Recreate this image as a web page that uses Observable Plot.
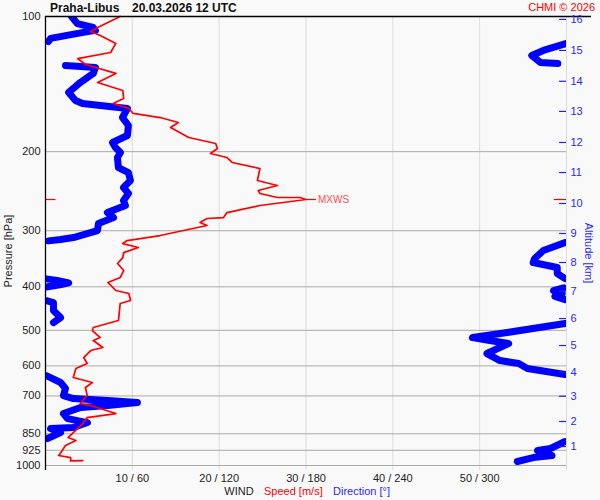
<!DOCTYPE html>
<html><head><meta charset="utf-8">
<script src="https://cdn.jsdelivr.net/npm/d3@7"></script>
<script src="https://cdn.jsdelivr.net/npm/@observablehq/plot@0.6"></script>
<style>
body{margin:0;background:#f9f9f9;}
#chart{width:600px;height:500px;}
</style></head><body><div id="chart"></div>
<script>
// Wind speed profile (m/s) vs pressure (hPa)
const speedP = [
  100, 105.8, 108.0, 110.2, 114.8, 120.3, 124.1, 125.3, 127.9, 133.9,
  140.3, 146.2, 152.3, 156.2, 160.3, 164.4, 167.9, 172.2, 176.7, 186.0,
  191.8, 196.8, 201.9, 206.1, 211.4, 218.1, 231.9, 237.9, 244.1, 247.9,
  253.0, 253.0, 255.6, 263.6, 273.3, 280.4, 281.8, 287.6, 292.1, 307.5,
  315.5, 320.4, 327.0, 335.6, 344.3, 354.9, 368.0, 381.4, 391.3, 407.6,
  414.0, 429.1, 435.8, 475.5, 492.9, 500.5, 518.8, 526.8, 546.1, 554.6,
  574.9, 592.8, 608.1, 636.8, 653.4, 670.4, 698.5, 727.7, 735.3, 766.1,
  782.0, 806.5, 844.6, 866.5, 880.0, 902.9, 940.6, 950.0, 960.3, 977.0,
  975.0
];
const speedV = [
  8.6, 6.0, 5.2, 6.3, 8.1, 7.5, 3.7, 4.0, 4.6, 8.1,
  6.0, 8.9, 9.0, 7.8, 9.6, 10.1, 13.2, 15.3, 14.4, 16.5,
  19.6, 19.8, 19.0, 20.9, 21.5, 24.7, 24.4, 26.7, 24.5, 24.7,
  26.7, 29.3, 30.0, 24.7, 20.9, 20.5, 18.6, 17.8, 18.6, 13.2,
  9.4, 8.9, 10.7, 9.0, 8.9, 8.3, 9.0, 8.6, 7.2, 8.1,
  9.6, 9.8, 8.6, 8.4, 5.5, 5.4, 6.3, 5.5, 6.6, 5.2,
  4.4, 4.8, 3.5, 3.2, 5.4, 4.6, 4.8, 4.0, 5.2, 8.1,
  4.8, 4.3, 3.2, 2.6, 3.5, 2.3, 1.7, 1.5, 2.9, 2.9,
  4.3
];
// Wind direction profile (deg) vs pressure (hPa), surface upward
const dirP = [
  979.7, 960.3, 950.5, 926.0, 916.6, 884.3,
  870.9, 844.6, 827.4, 823.2, 802.4, 786.2, 766.1, 742.8, 735.3, 724.0, 716.6, 709.4, 698.5, 673.8, 653.4, 630.4,
  627.1, 608.1, 592.8, 583.8, 563.2, 535.0, 526.8, 518.8, 505.6, 482.9,
  480.4, 468.2, 451.6, 433.5, 429.1,
  427, 420, 414, 408, 402,
  400.2, 396, 392, 387, 384,
  383.4, 373.7, 362.2, 353.1, 345.9, 332.0, 318.7,
  316.0, 313.9, 310.7, 299.7, 289.1, 280.4, 273.3, 263.6, 257.0, 247.9,
  240.4, 231.9, 222.6, 217.0, 206.1, 200.9, 195.8, 190.8, 184.1, 174.9,
  167.9, 160.3, 156.2, 153.8, 147.6, 140.3, 133.9, 129.9, 128.6,
  127.3, 126.6, 122.1, 119.0, 114.8,
  113.7, 111.9, 108.5, 107.4, 105.8, 103.7, 100
];
const dirV = [
  326, 337, 350, 340, 349, 359,
  1.4, 10.4, 3.5, 19.3, 29, 15.2, 12.4, 24.2, 42.8, 63.5, 42.8, 19.3, 12.4, 13.8, 10.4, 0.5,
  359, 333, 327, 314, 305, 320, 307, 295, 319, 359,
  5.5, 10.4, 5.5, 5.5, 0.5,
  359, 352, 357, 351, 358,
  0.5, 10, 16, 8, 0.5,
  359, 353.6, 353.6, 337, 338, 344, 359,
  2, 10.4, 19.3, 35.9, 36.6, 47, 42.8, 55.2, 53.9, 57.3,
  53.9, 58.7, 57.3, 50.4, 49.7, 51.8, 48.3, 46.3, 56.6, 57.3,
  53.2, 56.6, 25.6, 20.7, 16, 24, 33, 34.5, 13.8,
  354, 342, 336, 344, 360,
  2, 3.5, 26.2, 34.5, 33, 22, 18
];
const pressureTicks = [100, 200, 300, 400, 500, 600, 700, 850, 925, 1000];
const pressureGrid = [200, 300, 400, 500, 600, 700, 850, 925, 1000];
const windTicks = [10, 20, 30, 40, 50];
const windLabels = ["10 / 60", "20 / 120", "30 / 180", "40 / 240", "50 / 300"];
const windGrid = [10, 20, 30, 40, 50, 60];
const altKm = [1, 2, 3, 4, 5, 6, 7, 8, 9, 10, 11, 12, 13, 14, 15, 16];
const altP = [907.3, 798, 701, 619.9, 540.5, 470.7, 409.1, 353.1, 304.3, 260.9, 222.6, 190.8, 162.7, 139.4, 119.0, 101.5];
const mxwsP = 255.6;
const mxwsS = 30.0;

const speed = speedP.map((p, i) => ({p, v: speedV[i]}));
let seg = 0;
const dir = dirP.map((p, i) => {
  if (i > 0 && Math.abs(dirV[i] - dirV[i - 1]) > 180) seg++;
  return {p, v: dirV[i] / 6, seg};
});

const BLUE = "#0000ff", RED = "#ff0000", TXT = "#222";
const chart = Plot.plot({
  width: 600, height: 500,
  marginTop: 16, marginBottom: 35, marginLeft: 45, marginRight: 34,
  style: {background: "#f9f9f9", fontFamily: "'Liberation Sans', Arial, sans-serif", fontSize: "11px", color: TXT},
  x: {domain: [0, 60]},
  y: {type: "log", domain: [100, 1000], reverse: true},
  marks: [
    Plot.ruleX(windGrid, {stroke: "#dcdcdc", strokeWidth: 1, insetBottom: -5}),
    Plot.ruleY(pressureGrid, {stroke: "#aaa", strokeWidth: 1}),
    Plot.line(dir, {x: "v", y: "p", z: "seg", stroke: BLUE, strokeWidth: 7, strokeLinecap: "round", strokeLinejoin: "round", clip: true}),
    Plot.line(speed, {x: "v", y: "p", stroke: RED, strokeWidth: 1.7, strokeLinejoin: "round"}),
    Plot.ruleY([mxwsP], {x1: mxwsS, x2: mxwsS + 1.2, stroke: RED, strokeWidth: 1.2}),
    Plot.text([mxwsP], {x: mxwsS, y: d => d, text: () => "MXWS", dx: 12, textAnchor: "start", fill: "#ff5050", fontSize: 10}),
    Plot.ruleY([mxwsP], {x1: 0, x2: 1.2, stroke: RED, strokeWidth: 1.2}),
    Plot.ruleY([mxwsP], {x1: 58.6, x2: 60, stroke: RED, strokeWidth: 1.2}),
    Plot.ruleX([0], {stroke: "#000", strokeWidth: 1.3, insetBottom: -5}),
    Plot.ruleY([100], {stroke: "#000", strokeWidth: 1.3, insetRight: -25}),
    Plot.ruleY(altP, {x1: 59.2, x2: 60, stroke: "#2222ee", strokeWidth: 1.2}),
    Plot.text(altKm, {x: 60, y: (d, i) => altP[i], text: d => String(d), dx: 4, textAnchor: "start", fill: "#2a2aee", fontSize: 11}),
    Plot.axisY({ticks: pressureTicks, tickFormat: d => String(d), tickSize: 0, tickPadding: 5, label: null, fontSize: 11}),
    Plot.axisX({ticks: windTicks, tickFormat: d => windLabels[windTicks.indexOf(d)], tickSize: 0, tickPadding: 9, label: null, fontSize: 11})
  ]
});

const svg = d3.select(chart);
const font = "'Liberation Sans', Arial, sans-serif";
function addText(txt, x, y, opts = {}) {
  const t = svg.append("text").attr("x", x).attr("y", y).text(txt)
    .attr("font-family", font).attr("font-size", opts.size || 11)
    .attr("fill", opts.fill || TXT).attr("text-anchor", opts.anchor || "start");
  if (opts.bold) t.attr("font-weight", "bold");
  if (opts.rotate) t.attr("transform", `rotate(${opts.rotate},${x},${y})`);
  return t;
}
addText("Praha-Libus", 50, 12, {size: 12, bold: true, fill: "#111"});
addText("20.03.2026 12 UTC", 132, 12, {size: 12, bold: true, fill: "#111"});
addText("CHMI © 2026", 595, 11, {size: 11, fill: RED, anchor: "end"});
addText("Pressure [hPa]", 12, 251, {size: 11, anchor: "middle", rotate: -90});
addText("Altitude [km]", 585, 253, {size: 11, anchor: "middle", rotate: 90, fill: "#2a2aee"});
addText("WIND", 239, 495, {size: 11, anchor: "middle"});
addText("Speed [m/s]", 264, 495, {size: 11, fill: RED});
addText("Direction [°]", 333, 495, {size: 11, fill: "#2a2aee"});

document.getElementById("chart").appendChild(chart);
</script>
</body></html>
